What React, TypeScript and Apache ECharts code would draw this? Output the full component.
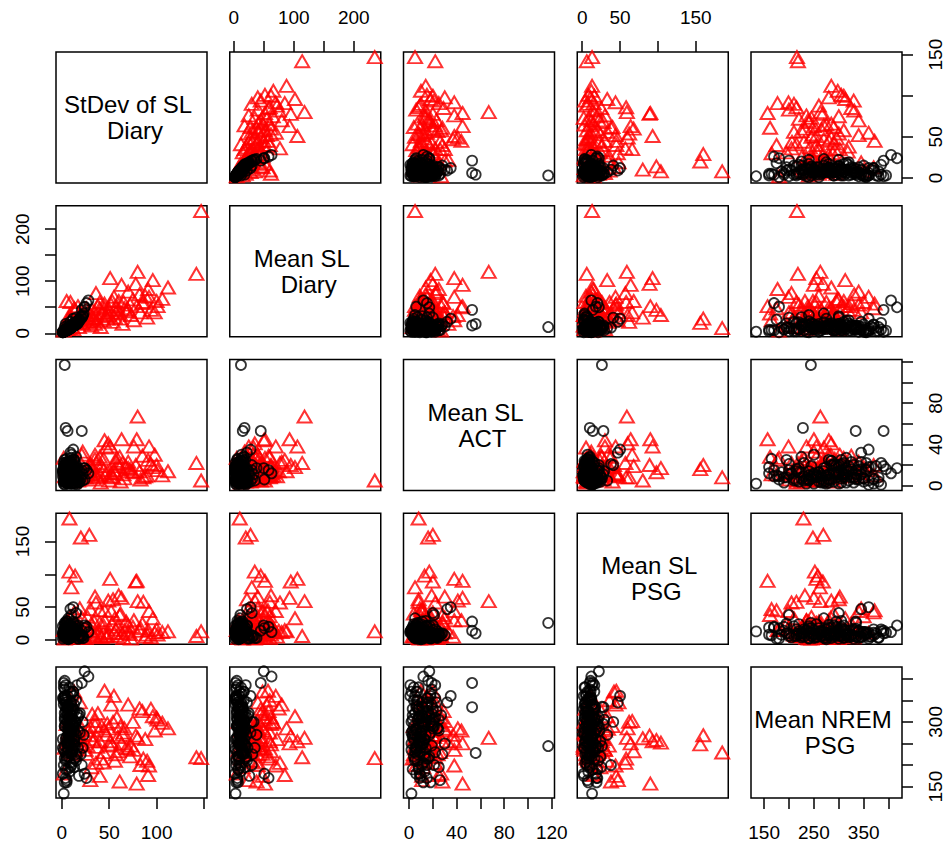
import React, { useEffect, useRef } from "react";
import * as echarts from "echarts";

// ---------- data ----------
const VAR_LABELS: string[][] = [
  ["StDev of SL", "Diary"],
  ["Mean SL", "Diary"],
  ["Mean SL", "ACT"],
  ["Mean SL", "PSG"],
  ["Mean NREM", "PSG"],
];

// red triangles group
const redSdDiary = [
  147, 142, 8, 20, 29, 80, 112, 106, 98, 96,
  91, 92, 79, 78, 86, 82, 63, 51, 61, 52,
  55, 36, 45, 14, 8, 10, 45, 60, 35, 30,
  40, 49, 70, 5, 3, 12, 18, 25, 33, 42,
  50, 58, 65, 72, 88, 70, 66, 75, 85, 101,
  94, 83, 68, 56, 44, 38, 28, 22, 16, 6,
  11, 27, 34, 47, 57, 62, 73, 90, 100, 19,
  31, 64, 76, 41, 2, 13, 54, 9,
  15, 23, 30, 37, 12, 26, 48, 18, 40, 32, 7, 53, 21, 44, 59, 17, 35, 5,
];
const redMeanDiary = [
  235, 114, 10, 20, 28, 118, 88, 66, 40, 102,
  85, 70, 52, 95, 60, 75, 93, 106, 38, 55,
  70, 77, 57, 45, 35, 30, 50, 62, 40, 25,
  48, 35, 45, 62, 15, 20, 30, 35, 28, 38,
  45, 52, 60, 55, 72, 80, 48, 65, 58, 52,
  45, 40, 42, 30, 25, 52, 42, 18, 25, 8,
  12, 22, 30, 33, 40, 28, 35, 30, 62, 40,
  15, 18, 25, 12, 5, 48, 22, 60,
  22, 28, 35, 22, 8, 48, 28, 12, 60, 45, 28, 62, 32, 40, 45, 52, 18, 20,
];
const redMeanAct = [
  5, 22, 8, 16, 20, 67, 14, 10, 30, 18,
  25, 38, 45, 20, 8, 14, 45, 38, 28, 12,
  15, 22, 10, 13, 17, 5, 44, 19, 30, 11,
  11, 41, 17, 12, 9, 4, 25, 8, 14, 19,
  5, 27, 11, 16, 9, 23, 7, 13, 29, 15,
  21, 6, 18, 12, 26, 9, 15, 33, 7, 14,
  20, 10, 6, 37, 24, 4, 14, 10, 20, 9,
  12, 22, 38, 3, 27, 20, 8, 18,
  18, 12, 21, 8, 24, 16, 13, 6, 28, 19, 11, 9, 30, 15, 21, 5, 26, 15,
];
const redMeanPsg = [
  13, 6, 185, 156, 160, 59, 13, 12, 11, 33,
  15, 44, 90, 89, 58, 14, 64, 93, 38, 44,
  11, 57, 45, 98, 104, 80, 30, 68, 66, 47,
  45, 60, 22, 8, 2, 5, 9, 3, 7, 4,
  10, 6, 3, 9, 5, 12, 15, 20, 25, 8,
  4, 18, 28, 33, 22, 14, 18, 12, 26, 30,
  20, 35, 28, 5, 16, 40, 2, 8, 16, 48,
  24, 10, 30, 6, 15, 42, 62, 36,
  10, 4, 15, 9, 3, 20, 7, 14, 26, 12, 6, 24, 34, 11, 20, 17, 5, 22,
];
const redNremPsg = [
  216, 218, 229, 248, 269, 263, 285, 298, 280, 313,
  177, 199, 157, 268, 215, 331, 250, 255, 162, 340,
  360, 205, 372, 258, 252, 262, 280, 232, 302, 165,
  175, 285, 238, 295, 240, 225, 270, 235, 255, 290,
  245, 310, 275, 220, 260, 340, 285, 300, 325, 305,
  330, 200, 240, 210, 230, 320, 280, 250, 265, 235,
  280, 245, 260, 270, 225, 290, 245, 210, 310, 345,
  195, 270, 235, 215, 180, 370, 300, 350,
  258, 272, 288, 242, 300, 226, 296, 263, 255, 318, 276, 248, 284, 206, 265, 238, 292, 260,
];

// black circles group
const blackSdDiary = [
  2, 24, 21, 28, 24, 3, 4, 6, 12, 9, 15, 26,
  3, 8, 12, 4, 17, 9, 1, 13, 6, 10,
  14, 5, 9, 19, 2, 11, 7, 16, 5, 10,
  1, 13, 8, 4, 18, 7, 12, 3, 15, 6,
  10, 21, 4, 9, 13, 2, 16, 7, 11, 5,
  8, 1, 17, 10, 4, 13, 7, 22, 3, 11,
  6, 15, 9, 4, 10, 18, 2, 7, 13, 3,
  16, 6, 11, 8, 3, 23, 7, 10, 4, 14,
  7, 12, 2, 17, 9, 5, 11, 1, 19, 10,
  4, 8, 14, 7, 12, 3, 22, 6, 13, 9,
  10, 3, 7, 15, 5, 12, 4, 20, 8, 2,
  5, 9, 3, 7, 12, 6, 4, 10, 8, 2,
  11, 6, 14, 3, 9, 5, 7, 13, 4, 8,
  6, 10, 2, 12, 5, 9, 7, 3, 15, 6,
  8, 4, 11, 7, 5, 10, 3, 9, 6, 12,
];
const blackMeanDiary = [
  3, 50, 45, 63, 51, 12, 18, 15, 28, 22, 30, 58,
  5, 9, 14, 4, 22, 10, 2, 16, 7, 12,
  18, 6, 11, 25, 3, 15, 8, 20, 9, 13,
  3, 14, 12, 6, 24, 9, 13, 4, 17, 8,
  11, 30, 5, 10, 15, 4, 21, 7, 14, 6,
  12, 2, 19, 13, 7, 16, 10, 33, 5, 15,
  8, 17, 9, 5, 14, 26, 3, 11, 18, 4,
  19, 6, 15, 11, 5, 38, 9, 13, 7, 20,
  10, 16, 3, 23, 12, 7, 14, 2, 28, 11,
  6, 13, 18, 8, 16, 5, 35, 9, 19, 10,
  14, 4, 9, 21, 6, 17, 7, 31, 12, 3,
  7, 12, 4, 10, 17, 8, 5, 14, 11, 3,
  15, 9, 20, 6, 13, 7, 10, 18, 6, 12,
  9, 16, 4, 19, 8, 13, 11, 5, 22, 10,
  12, 6, 15, 9, 7, 14, 5, 12, 8, 17,
];
const blackMeanAct = [
  2, 17, 53, 12, 6, 117, 56, 53, 35, 32, 20, 15,
  4, 12, 20, 7, 15, 2, 9, 25, 6, 11,
  18, 3, 8, 14, 22, 5, 10, 1, 16, 7,
  13, 6, 24, 9, 3, 19, 11, 5, 28, 8,
  2, 15, 7, 21, 10, 4, 17, 12, 6, 26,
  9, 14, 3, 18, 8, 23, 5, 11, 16, 2,
  20, 7, 12, 4, 27, 10, 15, 6, 9, 19,
  5, 22, 8, 13, 1, 17, 11, 30, 7, 14,
  10, 3, 19, 6, 24, 12, 8, 15, 4, 21,
  16, 9, 2, 13, 7, 20, 5, 11, 25, 8,
  6, 18, 11, 3, 14, 9, 22, 7, 12, 4,
  8, 14, 5, 19, 11, 3, 16, 9, 22, 6,
  12, 18, 7, 25, 10, 4, 15, 13, 20, 8,
  2, 17, 11, 6, 23, 9, 14, 19, 5, 12,
  7, 16, 10, 21, 3, 13, 8, 18, 11, 6,
];
const blackMeanPsg = [
  13, 22, 14, 12, 18, 26, 10, 28, 50, 47, 41, 20,
  8, 3, 15, 6, 22, 11, 2, 9, 18, 5,
  12, 7, 25, 4, 10, 16, 1, 13, 6, 20,
  9, 14, 3, 19, 7, 11, 28, 5, 10, 2,
  16, 6, 12, 8, 24, 4, 13, 9, 17, 7,
  3, 21, 10, 5, 14, 8, 33, 6, 11, 15,
  7, 12, 4, 18, 9, 2, 13, 23, 6, 10,
  14, 5, 20, 8, 11, 3, 16, 7, 26, 9,
  6, 17, 10, 2, 13, 19, 5, 12, 8, 38,
  11, 4, 15, 9, 7, 22, 3, 14, 10, 6,
  18, 8, 5, 12, 29, 9, 16, 4, 13, 7,
  5, 10, 16, 3, 8, 20, 7, 12, 4, 14,
  9, 2, 18, 6, 11, 24, 5, 13, 8, 3,
  15, 7, 10, 19, 4, 12, 6, 9, 21, 2,
  14, 8, 11, 5, 17, 7, 13, 3, 9, 16,
];
const blackNremPsg = [
  134, 417, 390, 405, 180, 244, 228, 334, 360, 345, 300, 170,
  290, 250, 330, 210, 310, 370, 180, 280, 240, 345,
  300, 265, 195, 320, 355, 230, 275, 385, 215, 305,
  260, 340, 285, 170, 315, 245, 295, 360, 225, 330,
  275, 200, 350, 305, 255, 380, 220, 290, 335, 165,
  310, 240, 280, 365, 190, 325, 270, 300, 395, 235,
  285, 350, 205, 260, 315, 175, 340, 280, 245, 375,
  320, 230, 295, 185, 360, 270, 310, 250, 335, 215,
  265, 305, 390, 240, 285, 160, 325, 355, 275, 200,
  345, 255, 300, 220, 370, 290, 240, 315, 195, 330,
  280, 160, 335, 270, 305, 250, 385, 225, 295, 350,
  255, 300, 215, 340, 280, 190, 325, 265, 310, 235,
  290, 360, 245, 305, 275, 220, 335, 260, 295, 380,
  250, 315, 200, 285, 345, 230, 270, 320, 210, 300,
  265, 355, 240, 290, 330, 225, 310, 275, 250, 370,
];

const redVars = [redSdDiary, redMeanDiary, redMeanAct, redMeanPsg, redNremPsg];
const blackVars = [blackSdDiary, blackMeanDiary, blackMeanAct, blackMeanPsg, blackNremPsg];

// axis scales and tick labels
const AXIS_MIN = [-6.2, -6.7, -4.7, -6.6, 123.7];
const AXIS_MAX = [153.2, 245, 122.3, 193, 427];
const TICKS = [
  [0, 50, 100, 150],
  [0, 50, 100, 150, 200],
  [0, 20, 40, 60, 80, 100, 120],
  [0, 50, 100, 150],
  [150, 200, 250, 300, 350, 400],
];
const X_TICK_LABELS = [[0, 50, 100], [0, 100, 200], [0, 40, 80, 120], [0, 50, 150], [150, 250, 350]];
const Y_TICK_LABELS = [[0, 50, 150], [0, 100, 200], [0, 40, 80], [0, 50, 150], [150, 300]];

// ---------- layout ----------
const N = 5;
const LEFT0 = 56;
const STEP_X = 173.75;
const W = 151;
const TOP0 = 52;
const STEP_Y = 153.75;
const H = 131;
const FONT = "'Liberation Sans', Arial, Helvetica, sans-serif";

function buildOption() {
  const grid: any[] = [];
  const xAxis: any[] = [];
  const yAxis: any[] = [];
  const series: any[] = [];
  const graphic: any[] = [];

  for (let i = 0; i < N; i++) {
    for (let j = 0; j < N; j++) {
      const k = i * N + j;
      grid.push({
        left: LEFT0 + j * STEP_X,
        top: TOP0 + i * STEP_Y,
        width: W,
        height: H,
        show: true,
        borderColor: "#000",
        borderWidth: 1.5,
        backgroundColor: "transparent",
        containLabel: false,
        outerBoundsMode: "none",
      });
      const showTop = i === 0 && j % 2 === 1;
      const showBottom = i === N - 1 && j % 2 === 0;
      const showX = showTop || showBottom;
      xAxis.push({
        gridIndex: k,
        type: "value",
        min: AXIS_MIN[j],
        max: AXIS_MAX[j],
        show: showX,
        position: showTop ? "top" : "bottom",
        axisLine: { show: false, onZero: false },
        splitLine: { show: false },
        axisTick: {
          show: showX,
          inside: false,
          length: 11,
          customValues: TICKS[j],
          lineStyle: { color: "#000", width: 1.5 },
        },
        axisLabel: {
          show: showX,
          customValues: X_TICK_LABELS[j],
          margin: 25,
          fontSize: 19,
          color: "#000",
          fontFamily: FONT,
        },
      });
      const showLeft = j === 0 && i % 2 === 1;
      const showRight = j === N - 1 && i % 2 === 0;
      const showY = showLeft || showRight;
      yAxis.push({
        gridIndex: k,
        type: "value",
        min: AXIS_MIN[i],
        max: AXIS_MAX[i],
        show: showY,
        position: showLeft ? "left" : "right",
        axisLine: { show: false, onZero: false },
        splitLine: { show: false },
        axisTick: {
          show: showY,
          inside: false,
          length: 11,
          customValues: TICKS[i],
          lineStyle: { color: "#000", width: 1.5 },
        },
        axisLabel: {
          show: showY,
          customValues: Y_TICK_LABELS[i],
          margin: 24,
          rotate: 90,
          fontSize: 19,
          color: "#000",
          fontFamily: FONT,
        },
      });

      if (i !== j) {
        series.push({
          type: "scatter",
          xAxisIndex: k,
          yAxisIndex: k,
          symbol: "triangle",
          symbolSize: [14, 12],
          silent: true,
          itemStyle: { color: "rgba(0,0,0,0)", borderColor: "#ff0000", borderWidth: 2 },
          data: redVars[j].map((x, n) => [x, redVars[i][n]]),
        });
        series.push({
          type: "scatter",
          xAxisIndex: k,
          yAxisIndex: k,
          symbol: "circle",
          symbolSize: 10,
          silent: true,
          itemStyle: { color: "rgba(0,0,0,0)", borderColor: "#000", borderWidth: 1.8 },
          data: blackVars[j].map((x, n) => [x, blackVars[i][n]]),
        });
      } else {
        const cx = LEFT0 + j * STEP_X + W / 2;
        const cy = TOP0 + i * STEP_Y + H / 2;
        const [l1, l2] = VAR_LABELS[i];
        graphic.push({
          type: "text",
          x: cx - 3.5,
          y: cy - 13,
          silent: true,
          style: {
            text: l1,
            fontSize: 24,
            fontFamily: FONT,
            fill: "#000",
            textAlign: "center",
            textVerticalAlign: "middle",
            verticalAlign: "middle",
          },
        });
        graphic.push({
          type: "text",
          x: cx + 3.5,
          y: cy + 13,
          silent: true,
          style: {
            text: l2,
            fontSize: 24,
            fontFamily: FONT,
            fill: "#000",
            textAlign: "center",
            textVerticalAlign: "middle",
            verticalAlign: "middle",
          },
        });
      }
    }
  }

  return {
    animation: false,
    backgroundColor: "#fff",
    grid,
    xAxis,
    yAxis,
    series,
    graphic,
  };
}

export default function App() {
  const ref = useRef<HTMLDivElement>(null);
  useEffect(() => {
    if (!ref.current) return;
    const chart = echarts.init(ref.current, undefined, { renderer: "svg" });
    chart.setOption(buildOption() as any);
    return () => {
      chart.dispose();
    };
  }, []);
  return (
    <div
      ref={ref}
      style={{ position: "absolute", left: 0, top: 0, width: 950, height: 848, background: "#fff" }}
    />
  );
}
